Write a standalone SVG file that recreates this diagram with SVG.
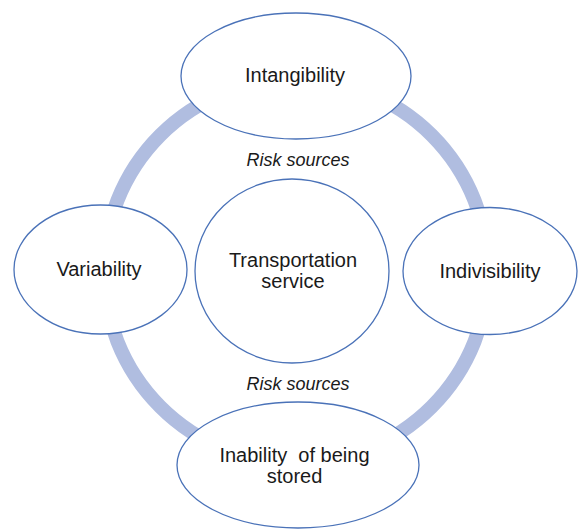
<svg xmlns="http://www.w3.org/2000/svg" width="578" height="529" viewBox="0 0 578 529">
  <style>
    .node { fill: #ffffff; stroke: #4a72b8; stroke-width: 1.3; }
    .label { font-family: "Liberation Sans", Arial, sans-serif; font-size: 20px; fill: #1a1a1a; text-anchor: middle; }
    .note { font-family: "Liberation Sans", Arial, sans-serif; font-size: 18px; font-style: italic; fill: #1a1a1a; text-anchor: middle; }
    .ring { fill: none; stroke: #b0bde0; stroke-width: 14; }
  </style>
  <rect width="578" height="529" fill="#ffffff"/>

  <!-- cycle connecting the four properties -->
  <g id="connectors">
    <circle class="ring" cx="296" cy="271" r="192"/>
  </g>

  <g id="risk-labels">
    <text class="note" x="298" y="166">Risk sources</text>
    <text class="note" x="298" y="390">Risk sources</text>
  </g>

  <g id="node-center">
    <ellipse class="node" cx="292" cy="271" rx="97" ry="92"/>
    <text class="label" x="293" y="267">Transportation</text>
    <text class="label" x="293" y="288">service</text>
  </g>

  <g id="node-intangibility">
    <ellipse class="node" cx="296" cy="76" rx="115" ry="63"/>
    <text class="label" x="295" y="82">Intangibility</text>
  </g>

  <g id="node-variability">
    <ellipse class="node" cx="100.5" cy="269.5" rx="86.5" ry="64.5"/>
    <text class="label" x="99" y="276">Variability</text>
  </g>

  <g id="node-indivisibility">
    <ellipse class="node" cx="490" cy="271" rx="87" ry="63.5"/>
    <text class="label" x="490" y="278">Indivisibility</text>
  </g>

  <g id="node-storage">
    <ellipse class="node" cx="298" cy="465" rx="121" ry="63"/>
    <text class="label" x="294.5" y="462" xml:space="preserve">Inability  of being</text>
    <text class="label" x="294.5" y="483">stored</text>
  </g>
</svg>
